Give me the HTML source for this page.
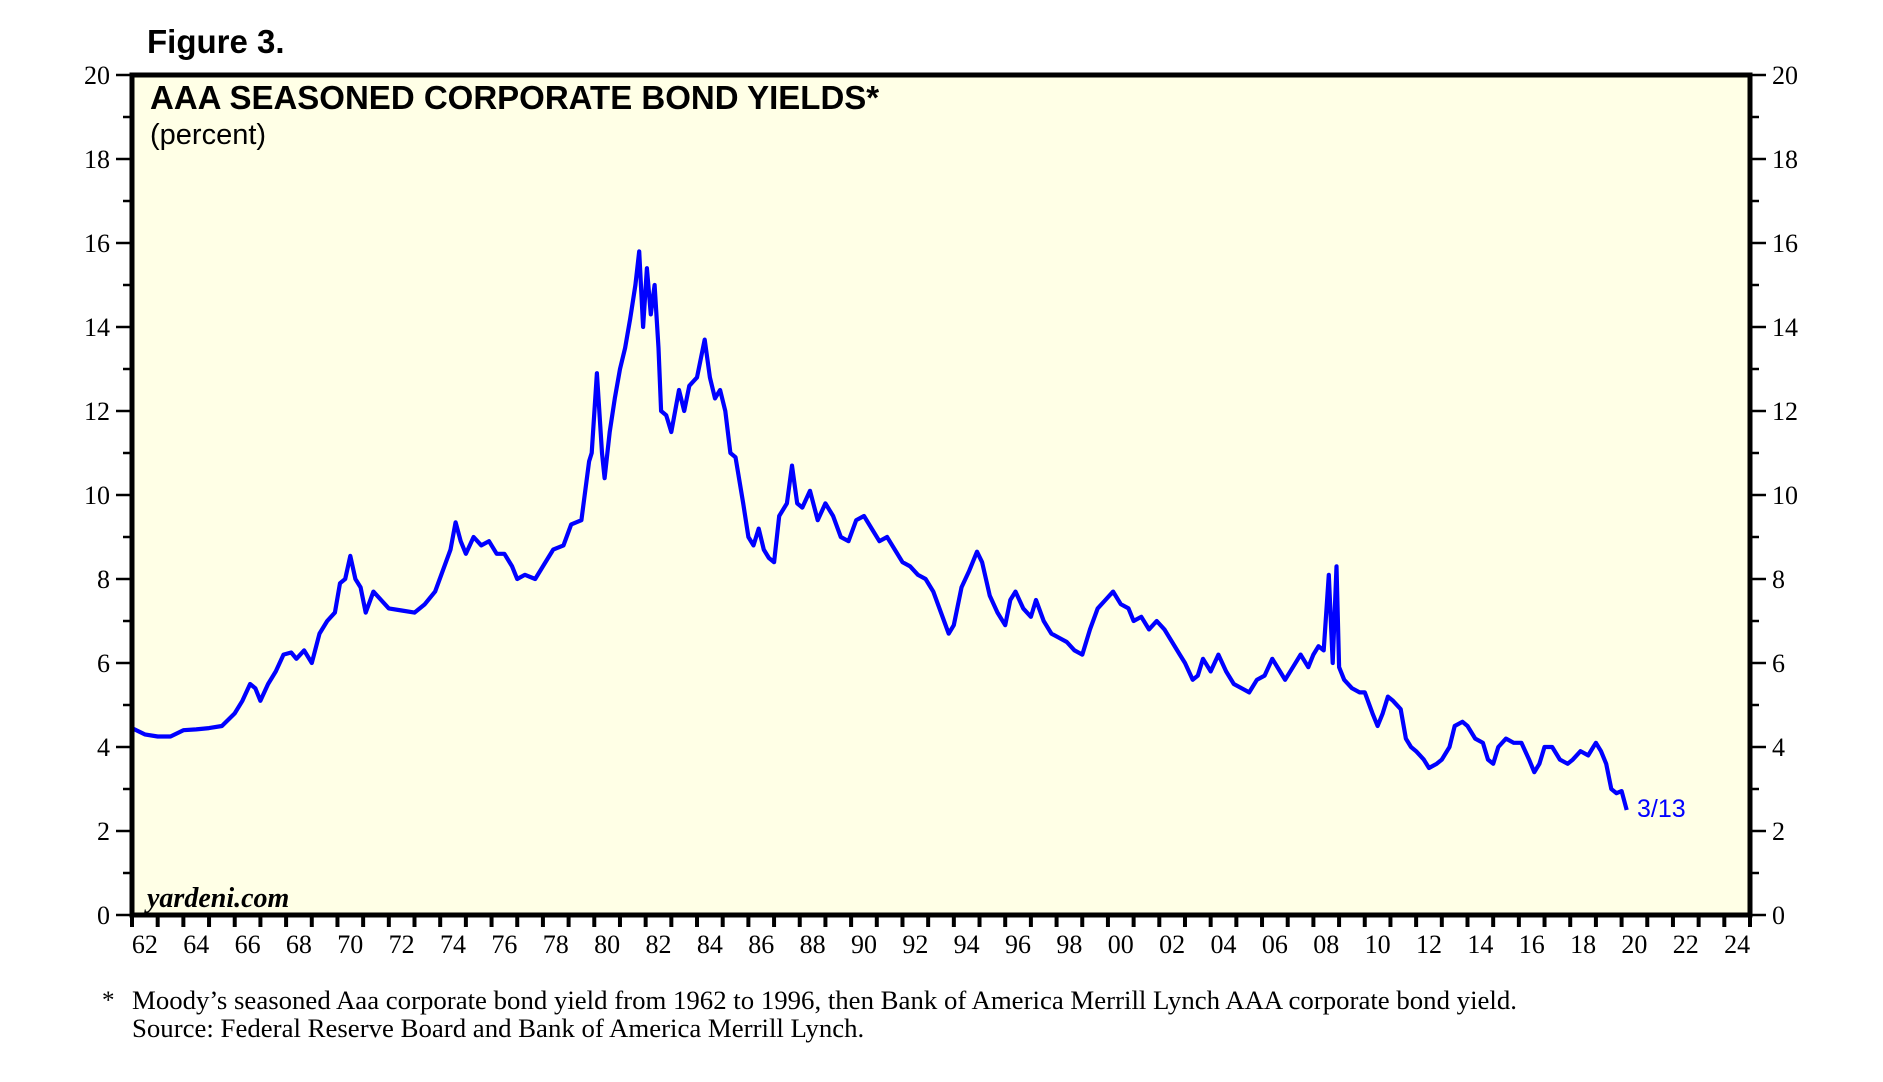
<!DOCTYPE html>
<html><head><meta charset="utf-8">
<style>
html,body{margin:0;padding:0;background:#fff;}
svg{display:block;}
</style></head>
<body>
<svg id="chart" width="1883" height="1082" xmlns="http://www.w3.org/2000/svg">
  <text x="147" y="53" font-family="Liberation Sans, sans-serif" font-weight="bold" font-size="33" fill="#000">Figure 3.</text>
  <rect x="132" y="75" width="1618" height="840" fill="#ffffe6"/>
  <g id="yticks"></g>
  <g id="xticks"></g>
  <polyline id="series" fill="none" stroke="#0000ff" stroke-width="4.2" stroke-linejoin="round"/>
  <rect x="132" y="75" width="1618" height="840" fill="none" stroke="#000" stroke-width="5"/>
  <text x="150" y="109" font-family="Liberation Sans, sans-serif" font-weight="bold" font-size="33" fill="#000">AAA SEASONED CORPORATE BOND YIELDS*</text>
  <text x="150" y="144" font-family="Liberation Sans, sans-serif" font-size="29" fill="#000">(percent)</text>
  <text x="147" y="907" font-family="Liberation Serif, serif" font-weight="bold" font-style="italic" font-size="28" fill="#000">yardeni.com</text>
  <text x="1637" y="817" font-family="Liberation Sans, sans-serif" font-size="25" fill="#0000ff">3/13</text>
  <text x="102" y="1008" font-family="Liberation Serif, serif" font-size="25" fill="#000">*</text>
  <text x="132" y="1009" font-family="Liberation Serif, serif" font-size="26.8" fill="#000">Moody’s seasoned Aaa corporate bond yield from 1962 to 1996, then Bank of America Merrill Lynch AAA corporate bond yield.</text>
  <text x="132" y="1037" font-family="Liberation Serif, serif" font-size="26.8" fill="#000">Source: Federal Reserve Board and Bank of America Merrill Lynch.</text>
</svg>
<script>
const years = [1962.0,1962.5,1963,1963.5,1964,1964.5,1965,1965.5,1966,1966.3,1966.6,1966.8,1967,1967.3,1967.6,1967.9,1968.2,1968.4,1968.7,1969,1969.3,1969.6,1969.9,1970.1,1970.3,1970.5,1970.7,1970.9,1971.1,1971.4,1971.7,1972,1972.5,1973,1973.4,1973.8,1974.1,1974.4,1974.6,1974.8,1975.0,1975.3,1975.6,1975.9,1976.2,1976.5,1976.8,1977.0,1977.3,1977.7,1978,1978.4,1978.8,1979.1,1979.5,1979.8,1979.9,1980.1,1980.3,1980.4,1980.6,1980.8,1981.0,1981.2,1981.4,1981.6,1981.75,1981.9,1982.05,1982.2,1982.35,1982.5,1982.6,1982.8,1983.0,1983.3,1983.5,1983.7,1984.0,1984.3,1984.5,1984.7,1984.9,1985.1,1985.3,1985.5,1985.8,1986.0,1986.2,1986.4,1986.6,1986.8,1987.0,1987.2,1987.5,1987.7,1987.9,1988.1,1988.4,1988.7,1989.0,1989.3,1989.6,1989.9,1990.2,1990.5,1990.8,1991.1,1991.4,1991.7,1992.0,1992.3,1992.6,1992.9,1993.2,1993.5,1993.8,1994.0,1994.3,1994.6,1994.9,1995.1,1995.4,1995.7,1996.0,1996.2,1996.4,1996.7,1997.0,1997.2,1997.5,1997.8,1998.1,1998.4,1998.7,1999.0,1999.3,1999.6,1999.9,2000.2,2000.5,2000.8,2001.0,2001.3,2001.6,2001.9,2002.2,2002.5,2002.8,2003.0,2003.3,2003.5,2003.7,2004.0,2004.3,2004.6,2004.9,2005.2,2005.5,2005.8,2006.1,2006.4,2006.7,2006.9,2007.2,2007.5,2007.8,2008.0,2008.2,2008.4,2008.6,2008.75,2008.9,2009.0,2009.2,2009.5,2009.8,2010.0,2010.3,2010.5,2010.7,2010.9,2011.1,2011.4,2011.6,2011.8,2012.0,2012.3,2012.5,2012.8,2013.0,2013.3,2013.5,2013.8,2014.0,2014.3,2014.6,2014.8,2015.0,2015.2,2015.5,2015.8,2016.1,2016.4,2016.6,2016.8,2017.0,2017.3,2017.6,2017.9,2018.1,2018.4,2018.7,2018.9,2019.0,2019.2,2019.4,2019.6,2019.8,2020.0,2020.2];
const yields = [4.45,4.3,4.25,4.25,4.4,4.42,4.45,4.5,4.8,5.1,5.5,5.4,5.1,5.5,5.8,6.2,6.25,6.1,6.3,6.0,6.7,7.0,7.2,7.9,8.0,8.55,8.0,7.8,7.2,7.7,7.5,7.3,7.25,7.2,7.4,7.7,8.2,8.7,9.35,8.9,8.6,9.0,8.8,8.9,8.6,8.6,8.3,8.0,8.1,8.0,8.3,8.7,8.8,9.3,9.4,10.8,11.0,12.9,11.0,10.4,11.5,12.3,13.0,13.5,14.2,15.0,15.8,14.0,15.4,14.3,15.0,13.5,12.0,11.9,11.5,12.5,12.0,12.6,12.8,13.7,12.8,12.3,12.5,12.0,11.0,10.9,9.8,9.0,8.8,9.2,8.7,8.5,8.4,9.5,9.8,10.7,9.8,9.7,10.1,9.4,9.8,9.5,9.0,8.9,9.4,9.5,9.2,8.9,9.0,8.7,8.4,8.3,8.1,8.0,7.7,7.2,6.7,6.9,7.8,8.2,8.65,8.4,7.6,7.2,6.9,7.5,7.7,7.3,7.1,7.5,7.0,6.7,6.6,6.5,6.3,6.2,6.8,7.3,7.5,7.7,7.4,7.3,7.0,7.1,6.8,7.0,6.8,6.5,6.2,6.0,5.6,5.7,6.1,5.8,6.2,5.8,5.5,5.4,5.3,5.6,5.7,6.1,5.8,5.6,5.9,6.2,5.9,6.2,6.4,6.3,8.1,6.0,8.3,5.9,5.6,5.4,5.3,5.3,4.8,4.5,4.8,5.2,5.1,4.9,4.2,4.0,3.9,3.7,3.5,3.6,3.7,4.0,4.5,4.6,4.5,4.2,4.1,3.7,3.6,4.0,4.2,4.1,4.1,3.7,3.4,3.6,4.0,4.0,3.7,3.6,3.7,3.9,3.8,4.0,4.1,3.9,3.6,3.0,2.9,2.95,2.5];
const yTickValues = [0,2,4,6,8,10,12,14,16,18,20];
const xTickLabels = ["62","64","66","68","70","72","74","76","78","80","82","84","86","88","90","92","94","96","98","00","02","04","06","08","10","12","14","16","18","20","22","24"];

const X0=132, X1=1750, Y0=915, Y1=75, YMIN=1962, YMAX=2025;
function xs(yr){return X0+(yr-YMIN)/(YMAX-YMIN)*(X1-X0);}
function ys(v){return Y0-(v/20)*(Y0-Y1);}
const NS="http://www.w3.org/2000/svg";
function mk(tag,attrs,parent){const e=document.createElementNS(NS,tag);for(const k in attrs)e.setAttribute(k,attrs[k]);parent.appendChild(e);return e;}

const yg=document.getElementById('yticks');
for(let v=0;v<=20;v++){
  const y=ys(v), major=v%2===0, len=major?16:9;
  const l1=mk('line',{x1:X0-len,x2:X0,y1:y,y2:y,stroke:'#000','stroke-width':2.5},yg);
  
  
  const l2=mk('line',{x1:X1,x2:X1+len,y1:y,y2:y,stroke:'#000','stroke-width':2.5},yg);
  
  
}
yTickValues.forEach(v=>{
  const y=ys(v);
  const t1=mk('text',{x:X0-22,y:y+9,'text-anchor':'end','font-family':'Liberation Serif, serif','font-size':26,fill:'#000'},yg);
  t1.textContent=v;
  
  
  const t2=mk('text',{x:X1+22,y:y+9,'text-anchor':'start','font-family':'Liberation Serif, serif','font-size':26,fill:'#000'},yg);
  t2.textContent=v;
  
  
});

const xg=document.getElementById('xticks');
for(let yr=YMIN;yr<=YMAX;yr++){
  const x=xs(yr);
  const l=mk('line',{x1:x,x2:x,y1:Y0,y2:Y0+12,stroke:'#000','stroke-width':4},xg);
  
  
}
xTickLabels.forEach((lab,i)=>{
  const yr=YMIN+2*i;
  const t=mk('text',{x:xs(yr+0.5),y:953,'text-anchor':'middle','font-family':'Liberation Serif, serif','font-size':26,fill:'#000'},xg);
  t.textContent=lab;
  
  
});

document.getElementById('series').setAttribute('points',years.map((yr,i)=>xs(yr).toFixed(1)+','+ys(yields[i]).toFixed(1)).join(' '));
</script>
</body></html>
